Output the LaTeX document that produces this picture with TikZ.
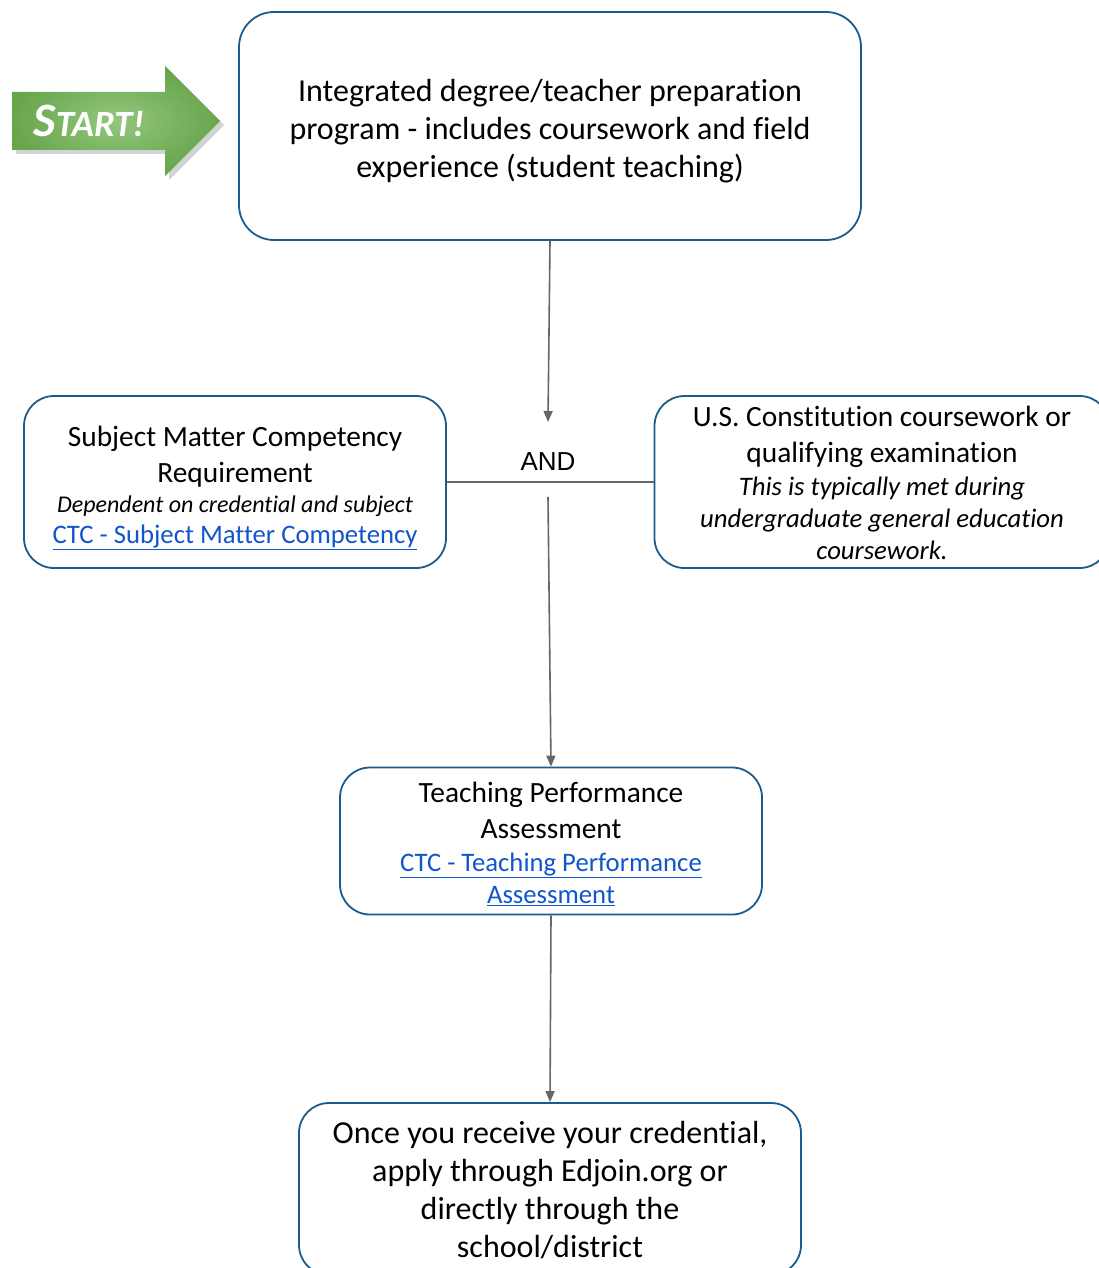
\documentclass[tikz,border=0pt]{standalone}
\usepackage{fontspec}
\setmainfont{Carlito}[Ligatures=NoCommon]
\newfontfamily\andfont{Liberation Sans}
\usetikzlibrary{arrows.meta}
\usetikzlibrary{shadows}
\definecolor{boxblue}{RGB}{28,92,140}
\definecolor{linkblue}{RGB}{17,85,204}
\definecolor{wiregray}{RGB}{102,102,102}
\definecolor{startlight}{RGB}{147,199,124}
\definecolor{startdark}{RGB}{104,166,78}
\newcommand{\link}[1]{\textcolor{linkblue}{\underline{#1}}}

\begin{document}
\begin{tikzpicture}[x=1pt,y=-1pt,
    flowbox/.style={
% The shape:
rectangle, rounded corners=30pt,
% The size:
inner sep=0pt,
% The border:
line width=1.8pt, draw=boxblue,
},
    boxtext/.style={align=center, inner sep=0pt},
    wire/.style={
% The line:
line width=1.6pt, draw=wiregray,
},
    flow/.style={
wire, -{Triangle[length=11pt,width=9pt]},
},
    big/.style={boxtext, font=\fontsize{32}{38}\selectfont},
    mid/.style={boxtext, font=\fontsize{29.4}{36}\selectfont},
]
  \useasboundingbox (0,0) rectangle (1099,1268);

  % start arrow
  \shade[inner color=startlight, outer color=startdark,
    drop shadow={shadow xshift=4pt, shadow yshift=-4pt, opacity=0.35}]
    (12,92) -- (165,92) -- (165,66) -- (220,121) -- (165,176)
    -- (165,150) -- (12,150) -- cycle;
  \node[text=white, font=\bfseries\itshape] (start) at (89,121)
    {\fontsize{48}{48}\selectfont S\fontsize{37}{37}\selectfont TART!};

  \node[flowbox,minimum width=622pt,minimum height=228pt,
    rounded corners=35pt,
    label={[big,yshift=-5pt]center:{Integrated degree/teacher preparation\\
     program - includes coursework and field\\
     experience (student teaching)}}]   (top) at (550,126) {};
  \node[flowbox,minimum width=422pt,minimum height=172pt,
    label={[mid,yshift=-6pt]center:{Subject Matter Competency\\
     Requirement\\[-6pt]
     {\itshape\fontsize{24}{30}\selectfont Dependent on credential and subject}\\[-5pt]
     {\fontsize{26.7}{30}\selectfont\link{CTC - Subject Matter Competency}}}}]
                                        (smc) at (235,482) {};
  \node[flowbox,minimum width=455pt,minimum height=172pt,
    label={[mid,yshift=-1pt]center:{U.S. Constitution coursework or\\
     qualifying examination\\[-3pt]
     {\itshape\fontsize{26.7}{32}\selectfont This is typically met during}\\[-4pt]
     {\itshape\fontsize{26.7}{32}\selectfont undergraduate general education}\\[-4pt]
     {\itshape\fontsize{26.7}{32}\selectfont coursework.}}}]
                                        (usc) at (882,482) {};
  \node[flowbox,minimum width=422pt,minimum height=147pt,
    label={[mid,yshift=-3pt]center:{Teaching Performance\\
     Assessment\\[-3pt]
     {\fontsize{26.7}{32}\selectfont\link{CTC - Teaching Performance}}\\[-4pt]
     {\fontsize{26.7}{32}\selectfont\link{Assessment}}}}]
                                        (tpa) at (551,841) {};
  \node[flowbox,minimum width=502pt,minimum height=172pt,
    label={[big,yshift=-1pt]center:{Once you receive your credential,\\
     apply through Edjoin.org or\\
     directly through the\\
     school/district}}]                 (fin) at (550,1189) {};

  \node[font=\andfont\fontsize{26}{26}\selectfont] (and) at (548,462) {AND};
  \coordinate (andtop) at (548,422);
  \coordinate (andbot) at (548,497);

  \draw[wire] (smc.east) -- (usc.west);
  \draw[flow] (top.south) -- (andtop);
  \draw[flow] (andbot) -- (tpa.north);
  \draw[flow] (tpa.south) -- (fin.north);

\end{tikzpicture}
\end{document}
